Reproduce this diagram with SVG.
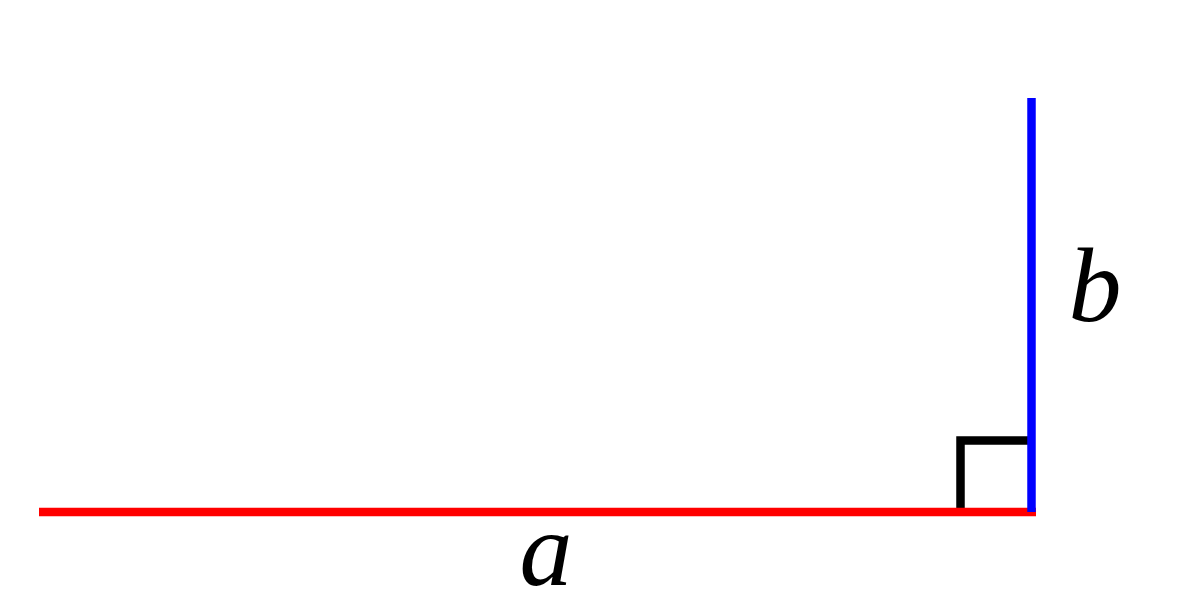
<svg xmlns="http://www.w3.org/2000/svg" width="1190" height="599" viewBox="0 0 1190 599">
<style>
.lbl{font-family:"Liberation Serif","Times New Roman",serif;font-style:italic;font-size:106px;fill:#000}
</style>
<rect width="1190" height="599" fill="#fff"/>
<g id="connectors">
<path id="right-angle" d="M960.5,508 V440.5 H1028" fill="none" stroke="#000" stroke-width="8.5"/>
<line id="side-a" x1="39" y1="512" x2="1036" y2="512" stroke="#f00" stroke-width="8.5"/>
<line id="side-b" x1="1031.5" y1="98" x2="1031.5" y2="512" stroke="#00f" stroke-width="8.5"/>
</g>
<g id="label-a"><text class="lbl" x="546" y="585" text-anchor="middle">a</text></g>
<g id="label-b"><text class="lbl" x="1095" y="321" text-anchor="middle">b</text></g>
</svg>
